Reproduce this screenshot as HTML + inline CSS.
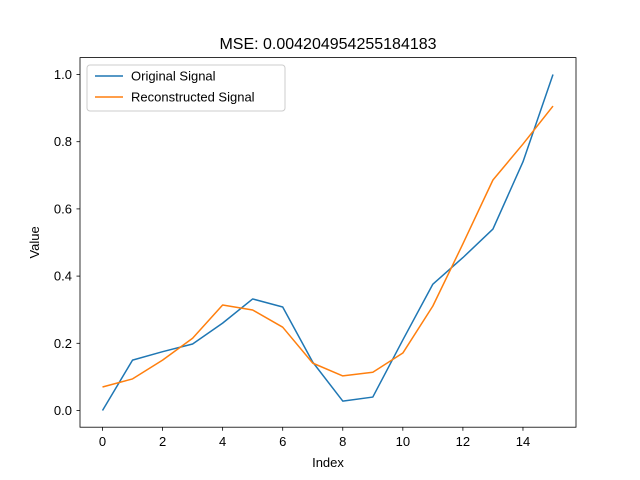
<!DOCTYPE html>
<html><head><meta charset="utf-8"><style>
body{margin:0;background:#fff;}
svg{display:block;font-family:"Liberation Sans","DejaVu Sans",sans-serif;}
</style></head><body>
<svg id="chart" width="640" height="480">
<rect width="640" height="480" fill="#fff"/>
<text x="328" y="49" text-anchor="middle" font-size="16">MSE: 0.004204954255184183</text>
<g id="axes"></g>
<g id="series"></g>
<rect x="80" y="57.6" width="496" height="369.6" fill="none" stroke="#000" stroke-width="0.8"/>
<text x="328" y="467" text-anchor="middle" font-size="13">Index</text>
<text x="0" y="0" transform="translate(39,242.4) rotate(-90)" text-anchor="middle" font-size="13">Value</text>
<g>
<rect x="87" y="65" width="198" height="46" rx="3" fill="#fff" fill-opacity="0.8" stroke="#ccc" stroke-width="1"/>
<line x1="95" y1="76" x2="123" y2="76" stroke="#1f77b4" stroke-width="1.5"/>
<text x="131" y="80.5" font-size="13">Original Signal</text>
<line x1="95" y1="97" x2="123" y2="97" stroke="#ff7f0e" stroke-width="1.5"/>
<text x="131" y="101.5" font-size="13">Reconstructed Signal</text>
</g>
</svg>
<script>
const indices=[0,1,2,3,4,5,6,7,8,9,10,11,12,13,14,15];
const original=[0,0.150,0.175,0.198,0.26,0.332,0.308,0.144,0.028,0.04,0.21,0.376,0.455,0.54,0.74,1.0];
const reconstructed=[0.07,0.094,0.15,0.215,0.314,0.299,0.248,0.141,0.103,0.114,0.171,0.311,0.496,0.686,0.793,0.906];
const xTicks=[0,2,4,6,8,10,12,14];
const yTicks=[0.0,0.2,0.4,0.6,0.8,1.0];
const NS="http://www.w3.org/2000/svg";
function xs(v){return 102.5+v*(553-102.5)/15;}
function ys(v){return 410.5-v*336;}
const axes=document.getElementById('axes');
function mk(tag,attrs,parent){const e=document.createElementNS(NS,tag);for(const k in attrs)e.setAttribute(k,attrs[k]);parent.appendChild(e);return e;}
xTicks.forEach(t=>{
  const l=mk('line',{x1:xs(t),x2:xs(t),y1:427.2,y2:430.7,stroke:'#000','stroke-width':0.8},axes);
  
  
  const tx=mk('text',{x:xs(t),y:446,'text-anchor':'middle','font-size':13},axes);
  tx.textContent=t;
  
  
});
yTicks.forEach(t=>{
  const l=mk('line',{x1:76.5,x2:80,y1:ys(t),y2:ys(t),stroke:'#000','stroke-width':0.8},axes);
  
  
  const tx=mk('text',{x:72,y:ys(t)+4.5,'text-anchor':'end','font-size':13},axes);
  tx.textContent=t.toFixed(1);
  
  
});
const series=document.getElementById('series');
function line(vals,color,name){
  const p=mk('polyline',{points:vals.map((v,i)=>xs(indices[i])+','+ys(v)).join(' '),fill:'none',stroke:color,'stroke-width':1.5,'stroke-linejoin':'round'},series);
  
  
}
line(original,'#1f77b4','original-signal-line');
line(reconstructed,'#ff7f0e','reconstructed-signal-line');
</script>
</body></html>
